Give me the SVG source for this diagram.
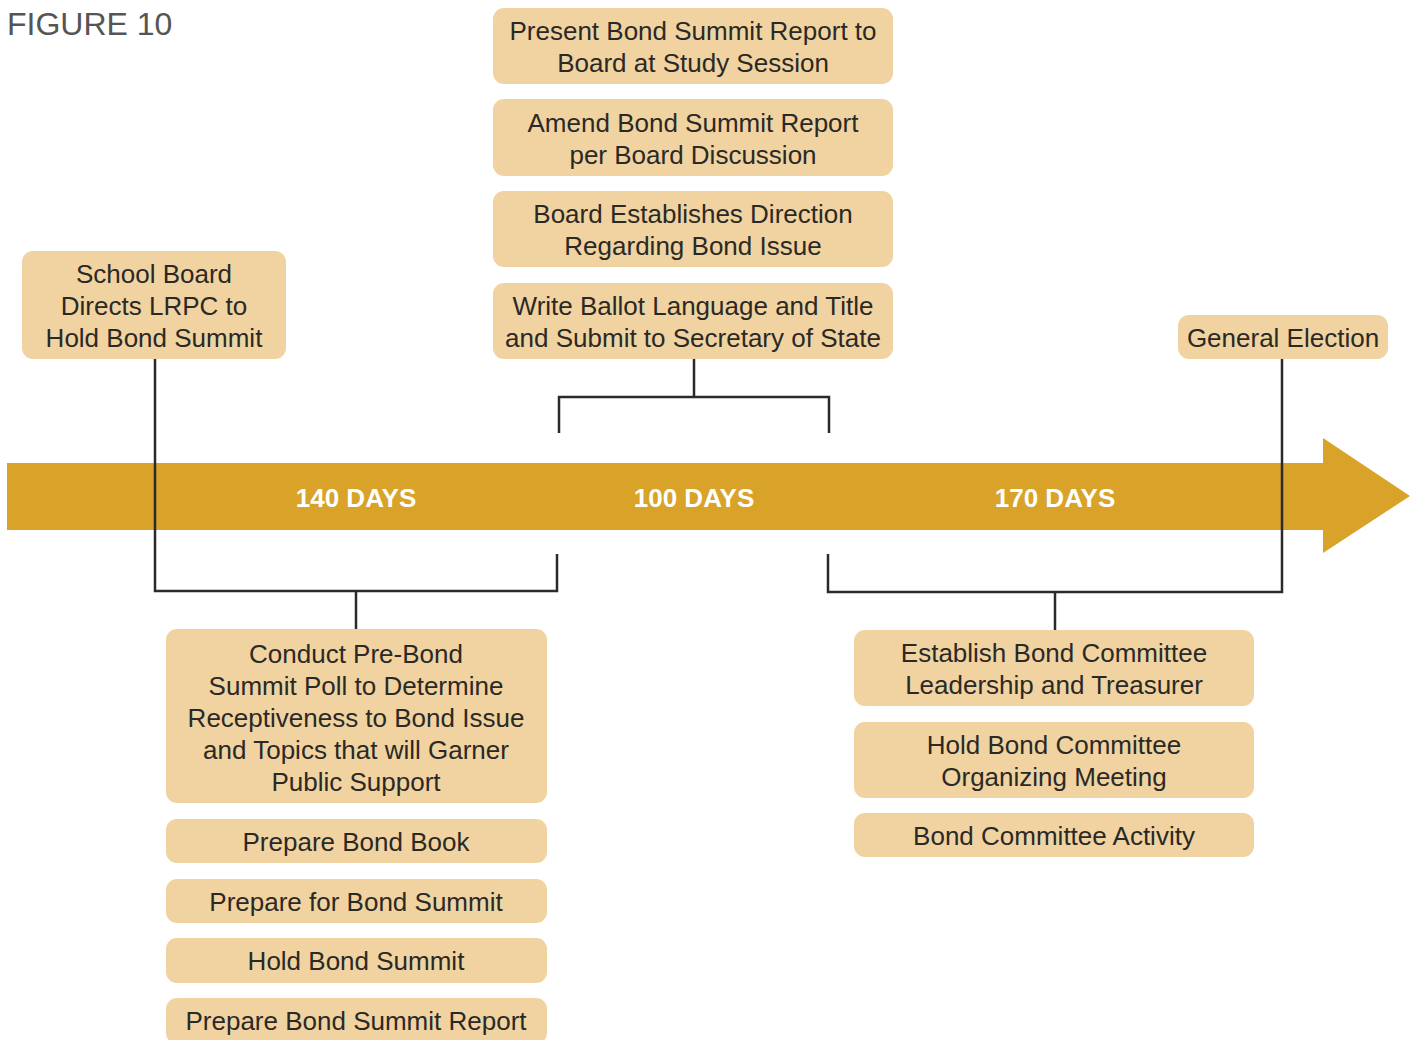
<svg xmlns="http://www.w3.org/2000/svg" width="1418" height="1040" viewBox="0 0 1418 1040">
<style>
.box{fill:#F0D3A0}
.t{font-family:"Liberation Sans",Arial,sans-serif;font-size:26px;fill:#2b2926;text-anchor:middle}
.d{font-family:"Liberation Sans",Arial,sans-serif;font-size:26px;font-weight:bold;fill:#ffffff;text-anchor:middle}
.c{fill:none;stroke:#2a2a2a;stroke-width:2.5}
</style>
<rect width="1418" height="1040" fill="#ffffff"/>
<text x="7" y="35" font-family="'Liberation Sans',Arial,sans-serif" font-size="32" fill="#555555">FIGURE 10</text>
<g id="timeline">
<polygon points="7,463 1323,463 1323,438 1410,496 1323,553 1323,530 7,530" fill="#D8A328"/>
<text class="d" x="356" y="507">140 DAYS</text>
<text class="d" x="694" y="507">100 DAYS</text>
<text class="d" x="1055" y="507">170 DAYS</text>
</g>
<g id="connectors">
<path class="c" d="M155,359 V591 H557 V554"/>
<path class="c" d="M356,591 V629"/>
<path class="c" d="M694,359 V397 M559,433 V397 H829 V433"/>
<path class="c" d="M828,554 V592 H1282 V359"/>
<path class="c" d="M1055,592 V630"/>
</g>
<g id="n-present"><rect class="box" x="493" y="8" width="400" height="76" rx="11"/><text class="t" x="693" y="40">Present Bond Summit Report to</text><text class="t" x="693" y="72">Board at Study Session</text></g>
<g id="n-amend"><rect class="box" x="493" y="99" width="400" height="77" rx="11"/><text class="t" x="693" y="132">Amend Bond Summit Report</text><text class="t" x="693" y="164">per Board Discussion</text></g>
<g id="n-direction"><rect class="box" x="493" y="191" width="400" height="76" rx="11"/><text class="t" x="693" y="223">Board Establishes Direction</text><text class="t" x="693" y="255">Regarding Bond Issue</text></g>
<g id="n-ballot"><rect class="box" x="493" y="283" width="400" height="76" rx="11"/><text class="t" x="693" y="315">Write Ballot Language and Title</text><text class="t" x="693" y="347">and Submit to Secretary of State</text></g>
<g id="n-school"><rect class="box" x="22" y="251" width="264" height="108" rx="11"/><text class="t" x="154" y="283">School Board</text><text class="t" x="154" y="315">Directs LRPC to</text><text class="t" x="154" y="347">Hold Bond Summit</text></g>
<g id="n-election"><rect class="box" x="1178" y="315" width="210" height="44" rx="11"/><text class="t" x="1283" y="347">General Election</text></g>
<g id="n-poll"><rect class="box" x="166" y="629" width="381" height="174" rx="11"/>
<text class="t" x="356" y="663">Conduct Pre-Bond</text>
<text class="t" x="356" y="695">Summit Poll to Determine</text>
<text class="t" x="356" y="727">Receptiveness to Bond Issue</text>
<text class="t" x="356" y="759">and Topics that will Garner</text>
<text class="t" x="356" y="791">Public Support</text></g>
<g id="n-book"><rect class="box" x="166" y="819" width="381" height="44" rx="11"/><text class="t" x="356" y="851">Prepare Bond Book</text></g>
<g id="n-prepsummit"><rect class="box" x="166" y="879" width="381" height="44" rx="11"/><text class="t" x="356" y="911">Prepare for Bond Summit</text></g>
<g id="n-hold"><rect class="box" x="166" y="938" width="381" height="45" rx="11"/><text class="t" x="356" y="970">Hold Bond Summit</text></g>
<g id="n-report"><rect class="box" x="166" y="998" width="381" height="46" rx="11"/><text class="t" x="356" y="1030">Prepare Bond Summit Report</text></g>
<g id="n-establish"><rect class="box" x="854" y="630" width="400" height="76" rx="11"/><text class="t" x="1054" y="662">Establish Bond Committee</text><text class="t" x="1054" y="694">Leadership and Treasurer</text></g>
<g id="n-organize"><rect class="box" x="854" y="722" width="400" height="76" rx="11"/><text class="t" x="1054" y="754">Hold Bond Committee</text><text class="t" x="1054" y="786">Organizing Meeting</text></g>
<g id="n-activity"><rect class="box" x="854" y="813" width="400" height="44" rx="11"/><text class="t" x="1054" y="845">Bond Committee Activity</text></g>
</svg>
